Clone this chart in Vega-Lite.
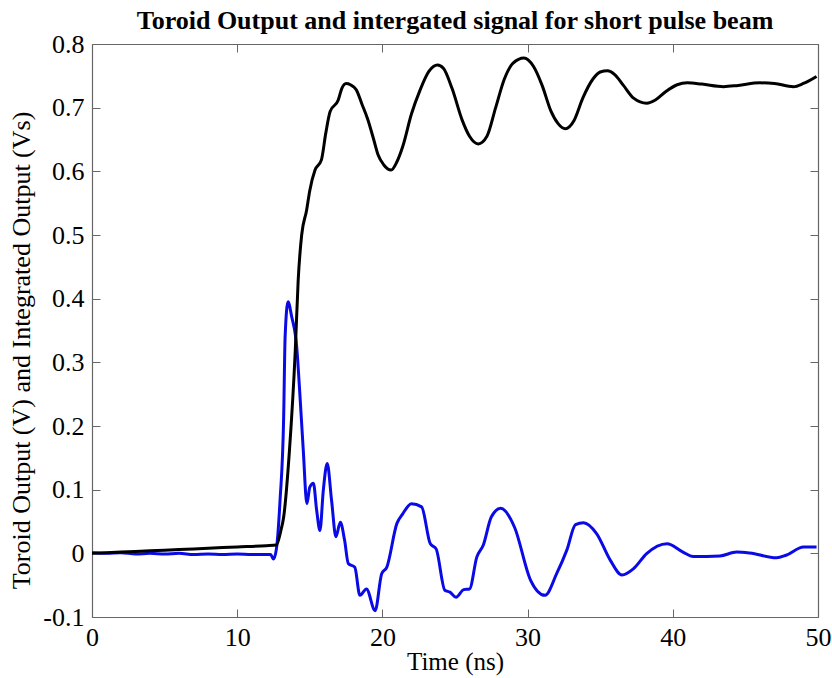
{
  "$schema": "https://vega.github.io/schema/vega-lite/v6.json",
  "width": 726,
  "height": 573,
  "autosize": "none",
  "padding": {"left": 92, "top": 44, "right": 14, "bottom": 61},
  "background": "white",
  "title": {
    "text": "Toroid Output and intergated signal for short pulse beam",
    "font": "Liberation Serif",
    "fontSize": 26,
    "fontWeight": "bold",
    "color": "black",
    "anchor": "middle",
    "offset": -3
  },
  "config": {
    "view": {"stroke": null},
    "axis": {
      "labelFont": "Liberation Serif",
      "titleFont": "Liberation Serif",
      "labelFontSize": 26,
      "titleFontSize": 26,
      "titleFontWeight": "normal",
      "labelColor": "black",
      "titleColor": "black",
      "domainColor": "#666666",
      "tickColor": "#666666",
      "domainWidth": 1.2,
      "tickWidth": 1,
      "grid": false
    }
  },
  "datasets": {
    "toroid": [
      {"t": 0, "v": 0.001}, {"t": 1, "v": 0.0}, {"t": 2, "v": 0.001}, {"t": 3, "v": -0.001},
      {"t": 4, "v": 0.0}, {"t": 5, "v": -0.001}, {"t": 6, "v": 0.0}, {"t": 7, "v": -0.002},
      {"t": 8, "v": -0.001}, {"t": 9, "v": -0.002}, {"t": 10, "v": -0.001}, {"t": 11, "v": -0.002},
      {"t": 12, "v": -0.002}, {"t": 12.3, "v": -0.002}, {"t": 12.5, "v": -0.009}, {"t": 12.7, "v": 0.007},
      {"t": 12.95, "v": 0.083}, {"t": 13.2, "v": 0.214}, {"t": 13.3, "v": 0.34}, {"t": 13.5, "v": 0.395},
      {"t": 13.75, "v": 0.372}, {"t": 14.1, "v": 0.324}, {"t": 14.3, "v": 0.256}, {"t": 14.55, "v": 0.162},
      {"t": 14.8, "v": 0.078}, {"t": 15.0, "v": 0.104}, {"t": 15.25, "v": 0.11}, {"t": 15.47, "v": 0.068},
      {"t": 15.7, "v": 0.036}, {"t": 15.93, "v": 0.099}, {"t": 16.2, "v": 0.141}, {"t": 16.5, "v": 0.083},
      {"t": 16.8, "v": 0.026}, {"t": 17.1, "v": 0.049}, {"t": 17.4, "v": 0.02}, {"t": 17.65, "v": -0.016},
      {"t": 18.1, "v": -0.022}, {"t": 18.45, "v": -0.066}, {"t": 18.9, "v": -0.056}, {"t": 19.5, "v": -0.09},
      {"t": 19.95, "v": -0.032}, {"t": 20.3, "v": -0.022}, {"t": 21.0, "v": 0.047}, {"t": 21.4, "v": 0.062},
      {"t": 22.0, "v": 0.078}, {"t": 22.7, "v": 0.073}, {"t": 23.3, "v": 0.015}, {"t": 23.7, "v": 0.007},
      {"t": 24.3, "v": -0.058}, {"t": 24.65, "v": -0.061}, {"t": 25.07, "v": -0.069}, {"t": 25.6, "v": -0.057},
      {"t": 26.0, "v": -0.056}, {"t": 26.5, "v": -0.006}, {"t": 26.95, "v": 0.013}, {"t": 27.5, "v": 0.057},
      {"t": 28.15, "v": 0.071}, {"t": 29.1, "v": 0.041}, {"t": 30.2, "v": -0.042}, {"t": 31.2, "v": -0.066},
      {"t": 32.0, "v": -0.032}, {"t": 32.7, "v": 0.005}, {"t": 33.3, "v": 0.045}, {"t": 33.85, "v": 0.048},
      {"t": 34.75, "v": 0.031}, {"t": 35.7, "v": -0.011}, {"t": 36.5, "v": -0.034}, {"t": 37.3, "v": -0.024},
      {"t": 38.2, "v": -0.0005}, {"t": 39.6, "v": 0.015}, {"t": 40.7, "v": 0.002}, {"t": 41.4, "v": -0.005},
      {"t": 43.25, "v": -0.004}, {"t": 44.4, "v": 0.002}, {"t": 45.3, "v": 0.0005}, {"t": 47.15, "v": -0.007},
      {"t": 47.8, "v": -0.003}, {"t": 49.0, "v": 0.01}, {"t": 49.9, "v": 0.01}
    ],
    "integrated": [
      {"t": 0, "v": 0.0}, {"t": 2, "v": 0.002}, {"t": 4, "v": 0.004}, {"t": 6, "v": 0.006},
      {"t": 8, "v": 0.008}, {"t": 10, "v": 0.01}, {"t": 12, "v": 0.012}, {"t": 12.7, "v": 0.013},
      {"t": 13.0, "v": 0.035}, {"t": 13.2, "v": 0.057}, {"t": 13.6, "v": 0.162}, {"t": 14.0, "v": 0.319},
      {"t": 14.2, "v": 0.429}, {"t": 14.44, "v": 0.5}, {"t": 14.78, "v": 0.539}, {"t": 15.0, "v": 0.57},
      {"t": 15.36, "v": 0.602}, {"t": 15.8, "v": 0.618}, {"t": 16.1, "v": 0.66}, {"t": 16.4, "v": 0.694},
      {"t": 16.96, "v": 0.712}, {"t": 17.2, "v": 0.73}, {"t": 17.5, "v": 0.738}, {"t": 17.8, "v": 0.736},
      {"t": 18.2, "v": 0.728}, {"t": 18.6, "v": 0.705}, {"t": 19.0, "v": 0.681}, {"t": 19.4, "v": 0.65},
      {"t": 19.7, "v": 0.626}, {"t": 20.1, "v": 0.61}, {"t": 20.6, "v": 0.602}, {"t": 21.0, "v": 0.615},
      {"t": 21.4, "v": 0.639}, {"t": 22.0, "v": 0.69}, {"t": 22.6, "v": 0.728}, {"t": 23.2, "v": 0.757},
      {"t": 23.8, "v": 0.767}, {"t": 24.2, "v": 0.762}, {"t": 24.8, "v": 0.73}, {"t": 25.5, "v": 0.68},
      {"t": 26.0, "v": 0.655}, {"t": 26.6, "v": 0.643}, {"t": 27.2, "v": 0.655}, {"t": 27.8, "v": 0.7},
      {"t": 28.4, "v": 0.745}, {"t": 29.0, "v": 0.77}, {"t": 29.75, "v": 0.778}, {"t": 30.4, "v": 0.765},
      {"t": 31.0, "v": 0.735}, {"t": 31.6, "v": 0.695}, {"t": 32.1, "v": 0.675}, {"t": 32.6, "v": 0.667},
      {"t": 33.2, "v": 0.68}, {"t": 33.8, "v": 0.715}, {"t": 34.5, "v": 0.745}, {"t": 35.0, "v": 0.756},
      {"t": 35.5, "v": 0.758}, {"t": 36.0, "v": 0.752}, {"t": 36.6, "v": 0.735}, {"t": 37.3, "v": 0.715},
      {"t": 38.2, "v": 0.707}, {"t": 38.8, "v": 0.712}, {"t": 39.5, "v": 0.725}, {"t": 40.3, "v": 0.736},
      {"t": 41.0, "v": 0.739}, {"t": 42.0, "v": 0.737}, {"t": 43.5, "v": 0.733}, {"t": 44.5, "v": 0.735},
      {"t": 46.0, "v": 0.739}, {"t": 47.0, "v": 0.738}, {"t": 48.3, "v": 0.733}, {"t": 49.0, "v": 0.738},
      {"t": 49.9, "v": 0.749}
    ]
  },
  "layer": [
    {
      "data": {"name": "toroid"},
      "mark": {"type": "line", "color": "#0a0ae6", "strokeWidth": 3, "clip": true, "interpolate": "monotone"},
      "encoding": {
        "x": {
          "field": "t", "type": "quantitative",
          "scale": {"domain": [0, 50], "nice": false, "zero": false},
          "axis": {
            "orient": "bottom", "title": "Time (ns)", "values": [0, 10, 20, 30, 40, 50],
            "tickSize": -8, "labelPadding": 15, "titlePadding": -1, "titleFontSize": 25, "labelFlush": false
          }
        },
        "y": {
          "field": "v", "type": "quantitative",
          "scale": {"domain": [-0.1, 0.8], "nice": false, "zero": false},
          "axis": {
            "orient": "left", "title": "Toroid Output (V) and Integrated Output (Vs)",
            "values": [-0.1, 0, 0.1, 0.2, 0.3, 0.4, 0.5, 0.6, 0.7, 0.8],
            "labelExpr": "abs(datum.value) < 1e-9 ? '0' : (datum.value < 0 ? '-' + format(-datum.value, '.1f') : format(datum.value, '.1f'))",
            "tickSize": -8, "labelPadding": 16, "titlePadding": 8, "titleY": 306, "labelFlush": false
          }
        }
      }
    },
    {
      "data": {"name": "integrated"},
      "mark": {"type": "line", "color": "black", "strokeWidth": 3, "clip": true, "interpolate": "monotone"},
      "encoding": {
        "x": {
          "field": "t", "type": "quantitative",
          "axis": {"orient": "top", "title": null, "labels": false, "values": [0, 10, 20, 30, 40, 50], "tickSize": -8}
        },
        "y": {
          "field": "v", "type": "quantitative",
          "axis": {"orient": "right", "title": null, "labels": false, "values": [-0.1, 0, 0.1, 0.2, 0.3, 0.4, 0.5, 0.6, 0.7, 0.8], "tickSize": -8}
        }
      }
    }
  ],
  "resolve": {"axis": {"x": "independent", "y": "independent"}}
}
